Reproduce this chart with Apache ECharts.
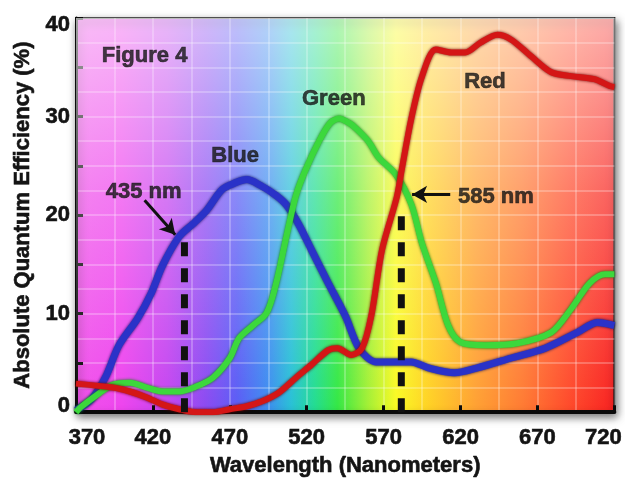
<!DOCTYPE html>
<html>
<head>
<meta charset="utf-8">
<script src="https://cdn.jsdelivr.net/npm/echarts@6/dist/echarts.min.js"></script>
<style>html,body{margin:0;padding:0;background:#fff;}#c{width:625px;height:482px;}</style>
</head>
<body>
<div id="c"></div>
<script>
// ---- data ----
var blueNm = [370, 380, 389, 398, 410, 419, 426, 437, 446, 455, 465, 474, 481, 490, 500, 507, 515, 523, 534, 545, 554, 565, 578, 588, 599, 616, 631, 653, 675, 696, 709, 720];
var blueQE = [0.2, 1.3, 3.5, 6.8, 9.5, 12.1, 14.8, 17.8, 19.1, 20.5, 22.6, 23.3, 23.6, 23.0, 22.0, 21.0, 19.0, 16.5, 13.1, 9.8, 6.5, 5.1, 5.1, 5.1, 4.5, 4.0, 4.5, 5.5, 6.5, 8.1, 9.1, 8.8];

var greenNm = [370, 373, 384, 394, 405, 416, 426, 437, 448, 459, 470, 476, 485, 494, 500, 507, 513, 519, 528, 535, 541, 548, 552, 560, 567, 578, 588, 595, 604, 612, 620, 636, 657, 679, 692, 704, 714, 720];
var greenQE = [0, 0.5, 1.8, 2.8, 3.0, 2.5, 2.1, 2.1, 2.6, 3.5, 5.5, 7.5, 8.8, 10.1, 13.0, 18.0, 22.0, 24.5, 27.5, 29.3, 29.8, 29.3, 28.8, 27.5, 25.8, 24.1, 21.1, 17.1, 13.1, 8.8, 7.1, 6.8, 7.0, 8.1, 10.5, 13.1, 14.0, 14.0];

var redNm = [370, 394, 405, 416, 426, 437, 448, 459, 470, 481, 491, 502, 513, 523, 534, 540, 549, 556, 562, 569, 578.5, 582, 588, 595, 604, 614, 623, 633, 644, 653, 666, 679, 692, 707, 717, 720];
var redQE = [2.9, 2.5, 2.1, 1.5, 0.8, 0.3, 0, 0, 0.3, 0.6, 1.1, 2.0, 3.5, 4.8, 6.3, 6.5, 5.8, 6.5, 9.8, 16.5, 21.8, 24.8, 29.8, 34.1, 36.8, 36.5, 36.5, 37.5, 38.3, 37.8, 36.1, 34.5, 34.1, 33.8, 33.1, 33.0];

// dashed marker lines (drawn positions) and where they end on the curves
var markerNm = [440.5, 581.5];
var markerTop = [17.5, 21.1];

// text annotations
var noteText = ['Figure 4', 'Blue', 'Green', 'Red', '435 nm', '585 nm'];
var noteNm = [414.6, 473.5, 537.6, 635.9, 414.0, 643.0];
var noteQE = [36.2, 26.0, 31.8, 33.5, 22.4, 21.8];

// arrows: [fromNm, fromQE, toNm, toQE]
var arrows = [[414.6, 21.5, 434.5, 18.0], [613.3, 22.1, 588.5, 22.1]];

var xTicks = [370, 420, 470, 520, 570, 620, 670, 720];
var yTicks = [0, 10, 20, 30, 40];

function pairs(xs, ys) { return xs.map(function (x, i) { return [x, ys[i]]; }); }

var chart = echarts.init(document.getElementById('c'), null, { renderer: 'canvas' });
var FONT = '"Liberation Sans", Arial, sans-serif';
var INK = '#141414';

var rainbow = new echarts.graphic.LinearGradient(0, 0, 1, 0, [
  { offset: 0.000, color: '#f052ea' },
  { offset: 0.086, color: '#ee44ee' },
  { offset: 0.171, color: '#c444f0' },
  { offset: 0.243, color: '#8a4af2' },
  { offset: 0.300, color: '#5a5cf5' },
  { offset: 0.357, color: '#3c8cf0' },
  { offset: 0.400, color: '#28c0d6' },
  { offset: 0.443, color: '#22dc92' },
  { offset: 0.486, color: '#34e844' },
  { offset: 0.543, color: '#a4f034' },
  { offset: 0.594, color: '#fafa22' },
  { offset: 0.657, color: '#ffd024' },
  { offset: 0.743, color: '#ffa032' },
  { offset: 0.829, color: '#ff7a32' },
  { offset: 0.914, color: '#ff4a2a' },
  { offset: 1.000, color: '#f82020' }
]);
var wash = new echarts.graphic.LinearGradient(0, 0, 0, 1, [
  { offset: 0, color: 'rgba(255,255,255,0.62)' },
  { offset: 0.45, color: 'rgba(255,255,255,0.28)' },
  { offset: 1, color: 'rgba(255,255,255,0)' }
]);

function txt(extra) {
  var o = { fontFamily: FONT, fontSize: 22, fontWeight: 'bold', color: INK, textBorderColor: INK, textBorderWidth: 0.6 };
  for (var k in extra) o[k] = extra[k];
  return o;
}

function curve(name, xs, ys, color, edge, width, z) {
  return {
    name: name, type: 'line', xAxisIndex: 0, yAxisIndex: 0,
    data: pairs(xs, ys), smooth: 0.3, showSymbol: false, symbol: 'none', z: z,
    lineStyle: { color: color, width: width, shadowColor: edge, shadowBlur: 3 },
    silent: true, animation: false
  };
}

var series = [];
// washed-out top overlay
series.push({
  type: 'line', xAxisIndex: 0, yAxisIndex: 0, data: [[370, 0]], showSymbol: false, symbol: 'none',
  lineStyle: { opacity: 0 }, z: 1, silent: true, animation: false,
  markArea: { silent: true, itemStyle: { color: wash }, data: [[{ coord: [370, 40] }, { coord: [720, 0] }]] }
});
series.push(curve('Blue', blueNm, blueQE, '#2a32c8', '#0c0c60', 7, 3));
series.push(curve('Green', greenNm, greenQE, '#3cd83c', '#117a11', 6, 4));
series.push(curve('Red', redNm, redQE, '#d41616', '#700000', 6, 5));
markerNm.forEach(function (nm, i) {
  series.push({
    type: 'line', xAxisIndex: 0, yAxisIndex: 0, data: [[nm, 0], [nm, markerTop[i]]],
    showSymbol: false, symbol: 'none', z: 6, silent: true, animation: false,
    lineStyle: { color: '#111', width: 7, type: [14, 12] }
  });
});
series.push({
  type: 'scatter', xAxisIndex: 0, yAxisIndex: 0, symbolSize: 1, z: 7, silent: true, animation: false,
  itemStyle: { color: 'rgba(0,0,0,0)' },
  data: noteText.map(function (t, i) { return { name: t, value: [noteNm[i], noteQE[i]] }; }),
  label: txt({ show: true, position: 'inside', formatter: '{b}' }),
  markLine: {
    silent: true, symbol: ['none', 'arrow'], symbolSize: [13, 15], animation: false,
    lineStyle: { color: '#111', width: 3, type: 'solid' }, label: { show: false },
    data: arrows.map(function (a) { return [{ coord: [a[0], a[1]] }, { coord: [a[2], a[3]] }]; })
  }
});

var option = {
  animation: false,
  backgroundColor: '#ffffff',
  grid: {
    left: 76, right: 8, top: 18, bottom: 64, show: true,
    backgroundColor: rainbow, borderColor: '#161616', borderWidth: 2,
    shadowColor: 'rgba(0,0,0,0.55)', shadowBlur: 8, shadowOffsetX: 2, shadowOffsetY: 4
  },
  xAxis: [{
    type: 'value', min: 370, max: 720, interval: 50,
    name: 'Wavelength (Nanometers)', nameLocation: 'middle', nameGap: 41,
    nameTextStyle: txt({}),
    axisLine: { show: true, onZero: false, lineStyle: { color: '#0a0a0a', width: 4 } },
    axisTick: { show: true, inside: true, length: 7, lineStyle: { color: '#0a0a0a', width: 3 } },
    splitLine: { show: false },
    axisLabel: txt({
      margin: 15,
      formatter: function (v) {
        if (v === xTicks[0]) return '{l|' + v + '}';
        if (v === xTicks[xTicks.length - 1]) return '{r|' + v + '}';
        return String(v);
      },
      rich: {
        l: txt({ padding: [0, 0, 0, 22] }),
        r: txt({ padding: [0, 22, 0, 0] })
      }
    })
  }, {
    type: 'value', min: 370, max: 720, interval: 25, position: 'bottom',
    axisLine: { show: false }, axisTick: { show: false }, axisLabel: { show: false },
    splitLine: { show: true, lineStyle: { color: 'rgba(255,255,255,0.33)', width: 1.5 } }
  }],
  yAxis: [{
    type: 'value', min: 0, max: 40, interval: 10,
    name: 'Absolute Quantum Efficiency (%)', nameLocation: 'middle', nameGap: 42,
    nameTextStyle: txt({}),
    axisLine: { show: true, onZero: false, lineStyle: { color: '#0a0a0a', width: 3 } },
    axisTick: { show: true, inside: true, length: 7, lineStyle: { color: '#0a0a0a', width: 3 } },
    minorTick: { show: true, splitNumber: 2, length: 7, lineStyle: { color: '#0a0a0a', width: 3 } },
    splitLine: { show: false },
    axisLabel: txt({
      margin: 6,
      formatter: function (v) {
        if (v === yTicks[yTicks.length - 1]) return '{t|' + v + '}';
        if (v === yTicks[0]) return '{b|' + v + '}';
        return String(v);
      },
      rich: {
        t: txt({ padding: [14, 0, 0, 0] }),
        b: txt({ padding: [0, 0, 12, 0] })
      }
    })
  }, {
    type: 'value', min: 0, max: 40, interval: 2.5, position: 'left',
    axisLine: { show: false }, axisTick: { show: false }, axisLabel: { show: false },
    splitLine: { show: true, lineStyle: { color: 'rgba(255,255,255,0.33)', width: 1.5 } }
  }],
  series: series
};
chart.setOption(option);
</script>
</body>
</html>
